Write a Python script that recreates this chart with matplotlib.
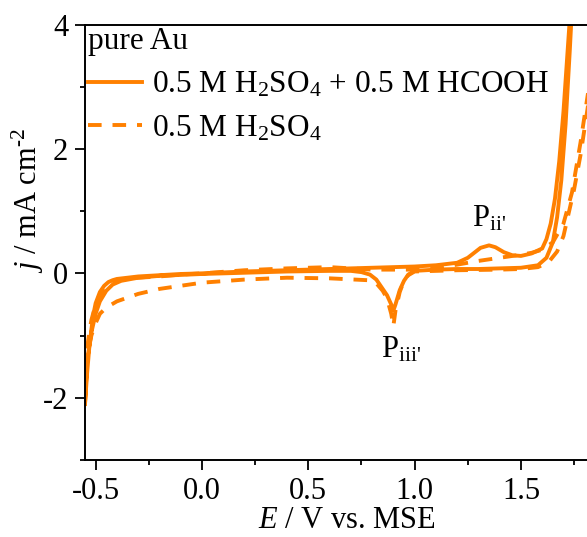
import matplotlib
matplotlib.use("Agg")
import matplotlib.pyplot as plt
from matplotlib.ticker import MultipleLocator, FormatStrFormatter

plt.rcParams['font.family'] = ['Liberation Serif', 'DejaVu Serif']
plt.rcParams['mathtext.fontset'] = 'custom'
plt.rcParams['mathtext.rm'] = 'Liberation Serif'
plt.rcParams['mathtext.it'] = 'Liberation Serif:italic'
plt.rcParams['axes.unicode_minus'] = False

# ---- data (E / V vs MSE, j / mA cm^-2) ----
# 0.5 M H2SO4 + 0.5 M HCOOH : anodic then cathodic branch
E_hcooh_fwd = [-0.55, -0.54, -0.53, -0.52, -0.51, -0.50, -0.48, -0.46, -0.44, -0.42, -0.40, -0.35,
               -0.30, -0.20, -0.10, 0.00, 0.20, 0.40, 0.60, 0.80, 1.00, 1.10, 1.20, 1.25, 1.28,
               1.31, 1.35, 1.38, 1.42, 1.46, 1.50, 1.55, 1.60, 1.62, 1.64, 1.66, 1.68, 1.70, 1.72,
               1.74, 1.76]
j_hcooh_fwd = [-2.1, -1.6, -1.2, -0.9, -0.65, -0.48, -0.30, -0.20, -0.14, -0.11, -0.09, -0.07,
               -0.05, -0.03, -0.01, 0.00, 0.03, 0.05, 0.07, 0.09, 0.11, 0.13, 0.17, 0.25, 0.33,
               0.41, 0.45, 0.42, 0.34, 0.29, 0.28, 0.32, 0.40, 0.55, 0.80, 1.20, 1.80, 2.60, 3.60,
               4.60, 5.60]
E_hcooh_rev = [1.76, 1.73, 1.71, 1.69, 1.67, 1.65, 1.62, 1.58, 1.50, 1.40, 1.30, 1.20, 1.10, 1.00,
               0.97, 0.95, 0.93, 0.91, 0.90, 0.89, 0.87, 0.85, 0.82, 0.79, 0.75, 0.70, 0.60, 0.40,
               0.20, 0.00, -0.20, -0.30, -0.38, -0.42, -0.45, -0.48, -0.50, -0.52, -0.54, -0.55]
j_hcooh_rev = [5.6, 3.6, 2.4, 1.5, 0.9, 0.5, 0.25, 0.13, 0.09, 0.08, 0.07, 0.07, 0.06, 0.04,
               -0.02, -0.12, -0.27, -0.50, -0.60, -0.50, -0.35, -0.25, -0.10, -0.02, 0.02, 0.04, 0.04,
               0.03, 0.01, -0.01, -0.04, -0.07, -0.12, -0.18, -0.28, -0.45, -0.65, -0.95, -1.40, -2.1]

# 0.5 M H2SO4
E_h2so4_fwd = [-0.55, -0.54, -0.53, -0.52, -0.50, -0.48, -0.45, -0.42, -0.38, -0.30, -0.20, -0.10,
               0.00, 0.20, 0.40, 0.60, 0.80, 1.00, 1.10, 1.20, 1.30, 1.40, 1.50, 1.55, 1.60, 1.65,
               1.70, 1.74, 1.78, 1.82, 1.85]
j_h2so4_fwd = [-1.6, -1.2, -0.95, -0.75, -0.50, -0.35, -0.22, -0.15, -0.10, -0.07, -0.05, -0.02,
               0.00, 0.05, 0.08, 0.10, 0.06, 0.06, 0.09, 0.14, 0.20, 0.25, 0.30, 0.33, 0.38, 0.50,
               0.80, 1.30, 2.10, 3.00, 3.50]
E_h2so4_rev = [1.85, 1.82, 1.78, 1.75, 1.72, 1.70, 1.67, 1.63, 1.58, 1.50, 1.40, 1.20, 1.00, 0.97,
               0.95, 0.93, 0.91, 0.90, 0.89, 0.87, 0.85, 0.82, 0.78, 0.72, 0.60, 0.40, 0.20, 0.00,
               -0.20, -0.30, -0.40, -0.45, -0.48, -0.50, -0.52, -0.54, -0.55]
j_h2so4_rev = [3.5, 2.8, 1.9, 1.35, 0.9, 0.6, 0.35, 0.18, 0.10, 0.07, 0.06, 0.05, 0.03, -0.03,
               -0.12, -0.30, -0.60, -0.85, -0.65, -0.40, -0.28, -0.16, -0.11, -0.10, -0.08, -0.07,
               -0.10, -0.15, -0.25, -0.33, -0.45, -0.55, -0.65, -0.80, -1.00, -1.35, -1.6]

labels = ['0.5 M H$_2$SO$_4$ + 0.5 M HCOOH', '0.5 M H$_2$SO$_4$']
legend_title = 'pure Au'
peak_labels = [r"P$_{\text{ii'}}$", r"P$_{\text{iii'}}$"]
xticks = [-0.5, 0.0, 0.5, 1.0, 1.5]
yticks = [-2, 0, 2, 4]
color = '#FF8000'

W, H = 587, 537
fig = plt.figure(figsize=(W / 100, H / 100), dpi=100)
ax = fig.add_axes([85 / W, 77 / H, 521 / W, 435.5 / H])

ax.plot(E_hcooh_fwd + E_hcooh_rev, j_hcooh_fwd + j_hcooh_rev, color=color, lw=2.8,
        solid_joinstyle='round', label=labels[0])
ax.plot(E_h2so4_fwd + E_h2so4_rev, j_h2so4_fwd + j_h2so4_rev, color=color, lw=2.8,
        dashes=(3.5, 2.8), label=labels[1])

ax.set_xlim(-0.55, 1.9)
ax.set_ylim(-3, 4)
ax.set_xticks(xticks)
ax.set_yticks(yticks)
ax.xaxis.set_major_formatter(FormatStrFormatter('%.1f'))
ax.xaxis.set_minor_locator(MultipleLocator(0.25))
ax.yaxis.set_minor_locator(MultipleLocator(1))
ax.tick_params(which='major', direction='out', length=7, width=1.3, labelsize=22, pad=5)
ax.tick_params(which='minor', direction='out', length=3.5, width=1.3)
for s in ax.spines.values():
    s.set_linewidth(1.4)

fig.text(347 / W, 1 - 520 / H, '$E$ / V vs. MSE', fontsize=22, ha='center', va='center')
fig.text(28 / W, 1 - 200 / H, r'$j$ / mA cm$^{\text{-2}}$', fontsize=22, ha='center',
         va='center', rotation=90)

ax.text(1.35, 0.64, peak_labels[0], fontsize=22, ha='center', va='bottom')
ax.text(0.935, -1.47, peak_labels[1], fontsize=22, ha='center', va='bottom')

leg = ax.legend(loc='upper left', frameon=False, title=legend_title, fontsize=22.5,
                title_fontsize=22.5, alignment='left', borderaxespad=0.08, borderpad=0,
                handlelength=1.75, handletextpad=0.3, labelspacing=0.45)

fig.savefig('out.png', dpi=100)
